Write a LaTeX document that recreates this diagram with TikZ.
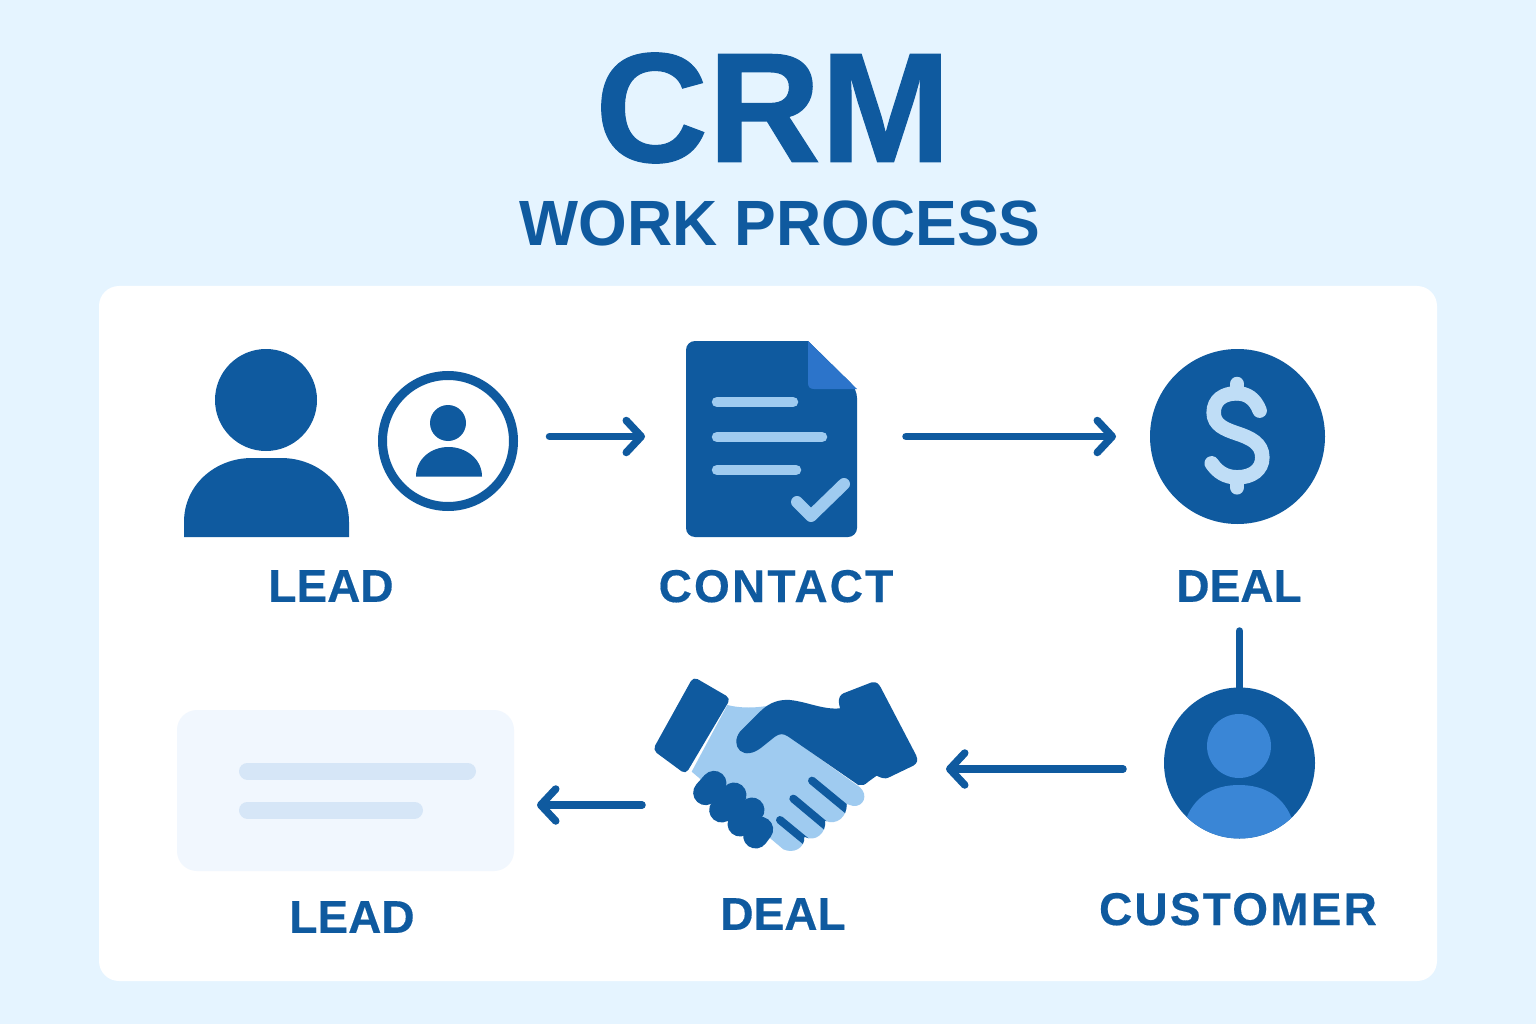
\documentclass[tikz,border=0pt]{standalone}
\usepackage{fontspec}
\setmainfont{Liberation Sans}
\usepackage{tikz}
\usetikzlibrary{positioning,arrows.meta}

\definecolor{crmdark}{HTML}{0F5A9F}
\definecolor{crmmid}{HTML}{2C74CA}
\definecolor{crmsoft}{HTML}{3A86D6}
\definecolor{crmlight}{HTML}{9FCBF0}
\definecolor{crmpale}{HTML}{BFDDF6}
\definecolor{crmback}{HTML}{E5F4FF}
\definecolor{crmcard}{HTML}{F1F7FE}
\definecolor{crmbar}{HTML}{D6E6F7}

\newcommand{\lighthand}{(262,135) .. controls (300,145) and (350,145) .. (395,135) -- (440,225) -- (660,382)
  .. controls (685,405) and (672,440) .. (640,438) -- (620,432)
  .. controls (622,470) and (590,498) .. (555,482)
  .. controls (560,520) and (525,548) .. (493,530)
  .. controls (495,565) and (460,582) .. (430,568) -- (385,530) -- (155,335) -- cycle}

\tikzset{
  steplabel/.style={font=\fontsize{46}{46}\selectfont\bfseries\addfontfeature{FakeBold=0.3}, text=crmdark, inner sep=0pt, text depth=0pt},
  widelabel/.style={steplabel, font=\fontsize{46}{46}\selectfont\bfseries\addfontfeature{FakeBold=0.3,LetterSpace=4.8}},
  flowarrow/.style={draw=crmdark, line width=7.5pt, line cap=round,
    -{Straight Barb[length=15pt,width=32pt,round]}},
  ghost/.style={inner sep=0pt, outer sep=0pt},
  darkfill/.style={fill=crmdark},
  docbar/.style={draw=crmlight, line width=10.5pt, line cap=round},
  cardbar/.style={draw=crmbar, line width=17pt, line cap=round},
  fingerline/.style={draw=crmdark, line width=8pt, line cap=round},
  knuckle/.style={draw=crmdark, line width=25pt, line cap=round},
  dollarline/.style={draw=crmpale, line width=14.5pt, line cap=round},
}

\begin{document}
\begin{tikzpicture}[x=1pt,y=-1pt]
\useasboundingbox (0,0) rectangle (1536,1024);
\fill[crmback] (0,0) rectangle (1536,1024);
\fill[white, rounded corners=20pt] (99,286) rectangle (1437,981);

\node (crm) [ghost, text=crmdark, font=\fontsize{156}{156}\selectfont\bfseries\addfontfeature{FakeBold=0.8}] at (773,108) {CRM};
\node (work) [ghost, text=crmdark, font=\fontsize{64}{64}\selectfont\bfseries\addfontfeature{FakeStretch=0.977}] at (780,223) {WORK PROCESS};

% top row
\node (leadfig) [ghost, minimum width=165pt, minimum height=187pt] at (266.5,443.5) {};
\fill[darkfill] (266,400) circle (51);
\fill[darkfill] (184,537) -- (184,522) .. controls (184,485) and (215,458) .. (252,458) -- (281,458)
  .. controls (318,458) and (349,485) .. (349,522) -- (349,537) -- cycle;

\node (leadbadge) [ghost, circle, minimum size=140pt] at (448,441) {};
\draw[crmdark, line width=9pt] (leadbadge.center) circle (65.5);
\fill[darkfill] (448,423) circle (18);
\fill[darkfill] (416,476.5) .. controls (416,459) and (431,447) .. (448.5,447)
  .. controls (466,447) and (482,459) .. (482,476.5) -- cycle;

\node (contactdoc) [ghost, minimum width=171pt, minimum height=196pt] at (771.5,439) {};
\fill[darkfill, rounded corners=9pt] (808,341) -- (686,341) -- (686,537) -- (857,537) -- (857,389) [sharp corners] -- cycle;
\fill[crmmid] (808,341) -- (857,389) -- (814,389) .. controls (810,389) and (808,387) .. (808,383) -- cycle;
\draw[docbar] (717,402) -- (793,402);
\draw[docbar] (717,437) -- (822,437);
\draw[docbar] (717,470) -- (796,470);
\draw[crmlight, line width=12pt, line cap=round, line join=round] (797,502) -- (811,516) -- (844,484);

\node (dealcoin) [ghost, circle, minimum size=175pt, fill=crmdark] at (1237.5,436.5) {};
\begin{scope}[shift={(1140,340)},scale=1/3]
\draw[dollarline]
  (359,212) .. controls (345,175) and (320,160) .. (290,160)
  .. controls (250,160) and (221,180) .. (221,218)
  .. controls (221,255) and (255,268) .. (290,280)
  .. controls (330,293) and (367,310) .. (367,352)
  .. controls (367,390) and (335,412) .. (292,412)
  .. controls (255,412) and (232,395) .. (215,370);
\draw[dollarline] (291,132) -- (291,160);
\draw[dollarline] (291,412) -- (291,442);
\end{scope}

\node (leadtxt) [steplabel] at (331,586) {LEAD};
\node (contacttxt) [widelabel] at (776,586) {CONTACT};
\node (dealtxt) [steplabel] at (1239,586) {DEAL};

% bottom row
\node (custcoin) [ghost, circle, minimum size=151pt, fill=crmdark] at (1239.5,763) {};
\fill[crmsoft] (1239,746) circle (32);
\begin{scope}
\clip (custcoin.center) circle (75.5);
\fill[crmsoft] (1185,845) -- (1185,822) .. controls (1193,797) and (1213,785) .. (1239,785)
  .. controls (1265,785) and (1285,797) .. (1293,822) -- (1293,845) -- cycle;
\end{scope}

\node (shake) [ghost, minimum width=264pt, minimum height=172pt] at (786,764) {};
\begin{scope}[shift={(640,660)},scale=1/3]
\fill[crmlight] \lighthand;
% cuff of the left hand
\fill[darkfill, rounded corners=5pt] (160,50) -- (272,115) -- (137,343) -- (38,270) -- cycle;
% dark hand
\fill[darkfill] (597,130) .. controls (595,115) and (600,105) .. (610,100)
  -- (695,67) .. controls (710,65) and (715,70) .. (722,82) -- (828,285)
  .. controls (835,300) and (832,310) .. (820,317) -- (745,353)
  .. controls (735,357) and (725,355) .. (710,347) -- (685,365)
  .. controls (675,375) and (665,378) .. (655,375) -- (445,230)
  .. controls (430,220) and (420,220) .. (405,230)  -- (365,262)
  .. controls (340,282) and (315,285) .. (300,272)
  .. controls (285,258) and (285,235) .. (300,215) -- (360,155)
  .. controls (390,125) and (420,118) .. (450,120)
  .. controls (500,125) and (550,150) .. (600,145) -- cycle;
% fingers
\begin{scope}
\clip \lighthand;
\draw[fingerline] (516,362) -- (630,456);
\draw[fingerline] (460,416) -- (570,508);
\draw[fingerline] (420,480) -- (505,550);
\end{scope}
% knuckles
\draw[knuckle] (197,398) -- (222,370);
\draw[knuckle] (245,450) -- (282,405);
\draw[knuckle] (300,492) -- (336,450);
\draw[knuckle] (347,528) -- (362,508);
\end{scope}

\node (leadcard) [ghost, minimum width=337pt, minimum height=161pt, fill=crmcard, rounded corners=20pt] at (345.5,790.5) {};
\draw[cardbar] (247.5,771) -- (467.5,771);
\draw[cardbar] (247.5,810) -- (414.5,810);

\node (leadtxtb) [steplabel] at (352,917) {LEAD};
\node (dealtxtb) [steplabel] at (783,914) {DEAL};
\node (custtxt) [widelabel] at (1238,909) {CUSTOMER};

% connectors
\draw[flowarrow, shorten <=31.5pt, shorten >=41pt] (leadbadge.east |- dealcoin.west) -- (contactdoc.west |- dealcoin.west);
\draw[flowarrow, shorten <=49pt, shorten >=34pt] (contactdoc.east |- dealcoin.west) -- (dealcoin.west);
\draw[crmdark, line width=7.5pt, line cap=round, shorten <=29pt] (dealtxt.south -| custcoin.north) -- (custcoin.north);
\draw[flowarrow, shorten <=41pt, shorten >=28pt] (custcoin.west |- 0,769) -- (shake.east |- 0,769);
\draw[flowarrow, shorten <=12pt, shorten >=23pt] (shake.west |- 0,805) -- (leadcard.east |- 0,805);
\end{tikzpicture}
\end{document}
